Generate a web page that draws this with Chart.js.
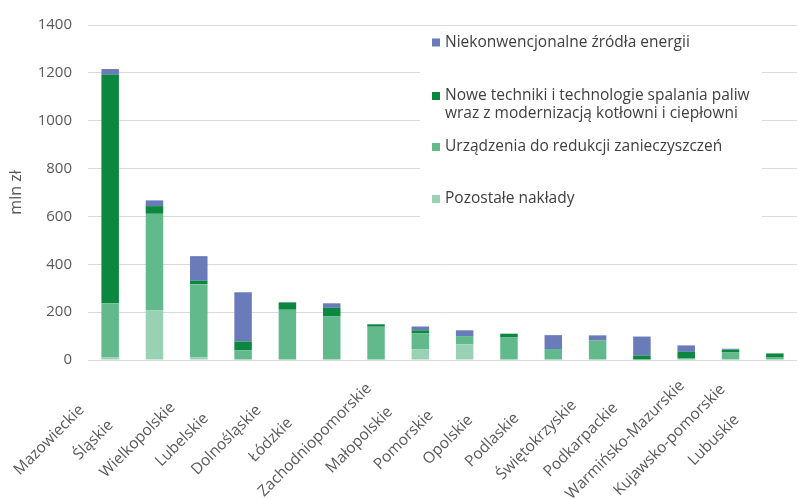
<!DOCTYPE html>
<html><head><meta charset="utf-8">
<script src="https://cdn.jsdelivr.net/npm/chart.js@4/dist/chart.umd.min.js"></script>
<style>html,body{margin:0;padding:0;background:#fff;overflow:hidden}</style>
</head><body>
<canvas id="c" width="797" height="499"></canvas>
<script>
const categories = ['Mazowieckie','Śląskie','Wielkopolskie','Lubelskie','Dolnośląskie','Łódzkie','Zachodniopomorskie','Małopolskie','Pomorskie','Opolskie','Podlaskie','Świętokrzyskie','Podkarpackie','Warmińsko-Mazurskie','Kujawsko-pomorskie','Lubuskie'];
const pozostale         = [10, 207, 10, 0, 2, 0, 0, 45, 66, 0, 0, 0, 0, 0, 0, 0];
const urzadzenia        = [227, 404, 307, 41, 208, 182, 139, 67, 34, 94, 46, 81, 2, 8, 33, 10];
const noweTechniki      = [956, 32, 14, 36, 30, 36, 10, 12, 0, 16, 0, 0, 17, 26, 10, 17];
const niekonwencjonalne = [23, 24, 103, 206, 2, 19, 1, 16, 24, 0, 58, 22, 79, 27, 4, 1];
const yTicks = [0, 200, 400, 600, 800, 1000, 1200, 1400];
const seriesNames = ['Pozostałe nakłady', 'Urządzenia do redukcji zanieczyszczeń', 'Nowe techniki i technologie spalania paliw\nwraz z modernizacją kotłowni i ciepłowni', 'Niekonwencjonalne źródła energii'];
const yTitle = 'mln zł';

const colors = ['#98d1b3', '#62b98b', '#0b873f', '#6a7bb9'];
const FONT = '"Open Sans", "Noto Sans", sans-serif';

const legendPlugin = {
  id: 'customLegend',
  afterDraw(chart) {
    const ctx = chart.ctx;
    ctx.save();
    ctx.fillStyle = '#ffffff';
    ctx.fillRect(420, 28, 342, 197);
    const rows = [42.5, 96, 147, 199];
    const order = [3, 2, 1, 0];
    ctx.font = '15.5px ' + FONT;
    ctx.textBaseline = 'middle';
    ctx.textAlign = 'left';
    order.forEach((di, k) => {
      const y = rows[k];
      ctx.fillStyle = colors[di];
      ctx.fillRect(432, y - 4, 8, 8);
      ctx.fillStyle = '#404040';
      seriesNames[di].split('\n').forEach((line, j) => {
        ctx.fillText(line, 445, y + j * 18);
      });
    });
    ctx.restore();
  }
};

const xLabelPlugin = {
  id: 'xLabels',
  afterDraw(chart) {
    const ctx = chart.ctx;
    const xs = chart.scales.x;
    ctx.save();
    ctx.font = '15.5px ' + FONT;
    ctx.fillStyle = '#595959';
    ctx.textAlign = 'center';
    ctx.textBaseline = 'middle';
    categories.forEach((lab, i) => {
      const x = xs.getPixelForTick(i) - 61;
      ctx.save();
      ctx.translate(x, 440);
      ctx.rotate(-Math.PI / 4);
      ctx.fillText(lab, 0, 0);
      ctx.restore();
    });
    ctx.restore();
  }
};

const data = {
  labels: categories,
  datasets: [pozostale, urzadzenia, noweTechniki, niekonwencjonalne].map((arr, i) => ({
    label: seriesNames[i],
    data: arr,
    backgroundColor: colors[i],
    borderWidth: 0,
    categoryPercentage: 1,
    barPercentage: 0.395
  }))
};

new Chart(document.getElementById('c'), {
  type: 'bar',
  data,
  options: {
    responsive: false,
    animation: false,
    layout: { padding: { top: 21, right: 0, left: 0, bottom: 0 } },
    plugins: { legend: { display: false }, tooltip: { enabled: false } },
    scales: {
      x: {
        stacked: true,
        grid: { display: false },
        border: { display: false },
        ticks: { display: false },
        afterFit(s) { s.height = 139; }
      },
      y: {
        stacked: true,
        min: 0, max: 1400,
        afterBuildTicks(s) { s.ticks = yTicks.map(v => ({ value: v })); },
        grid: { color: '#dadada', lineWidth: 1, drawTicks: false },
        border: { display: false },
        ticks: { padding: 16, color: '#595959', font: { family: FONT, size: 15 }, callback: (v) => String(v) },
        title: { display: true, text: yTitle, color: '#595959', font: { family: FONT, size: 16 }, padding: { top: 7, bottom: 4 } },
        afterFit(s) { s.width = 88; }
      }
    }
  },
  plugins: [legendPlugin, xLabelPlugin]
});
</script>
</body></html>
